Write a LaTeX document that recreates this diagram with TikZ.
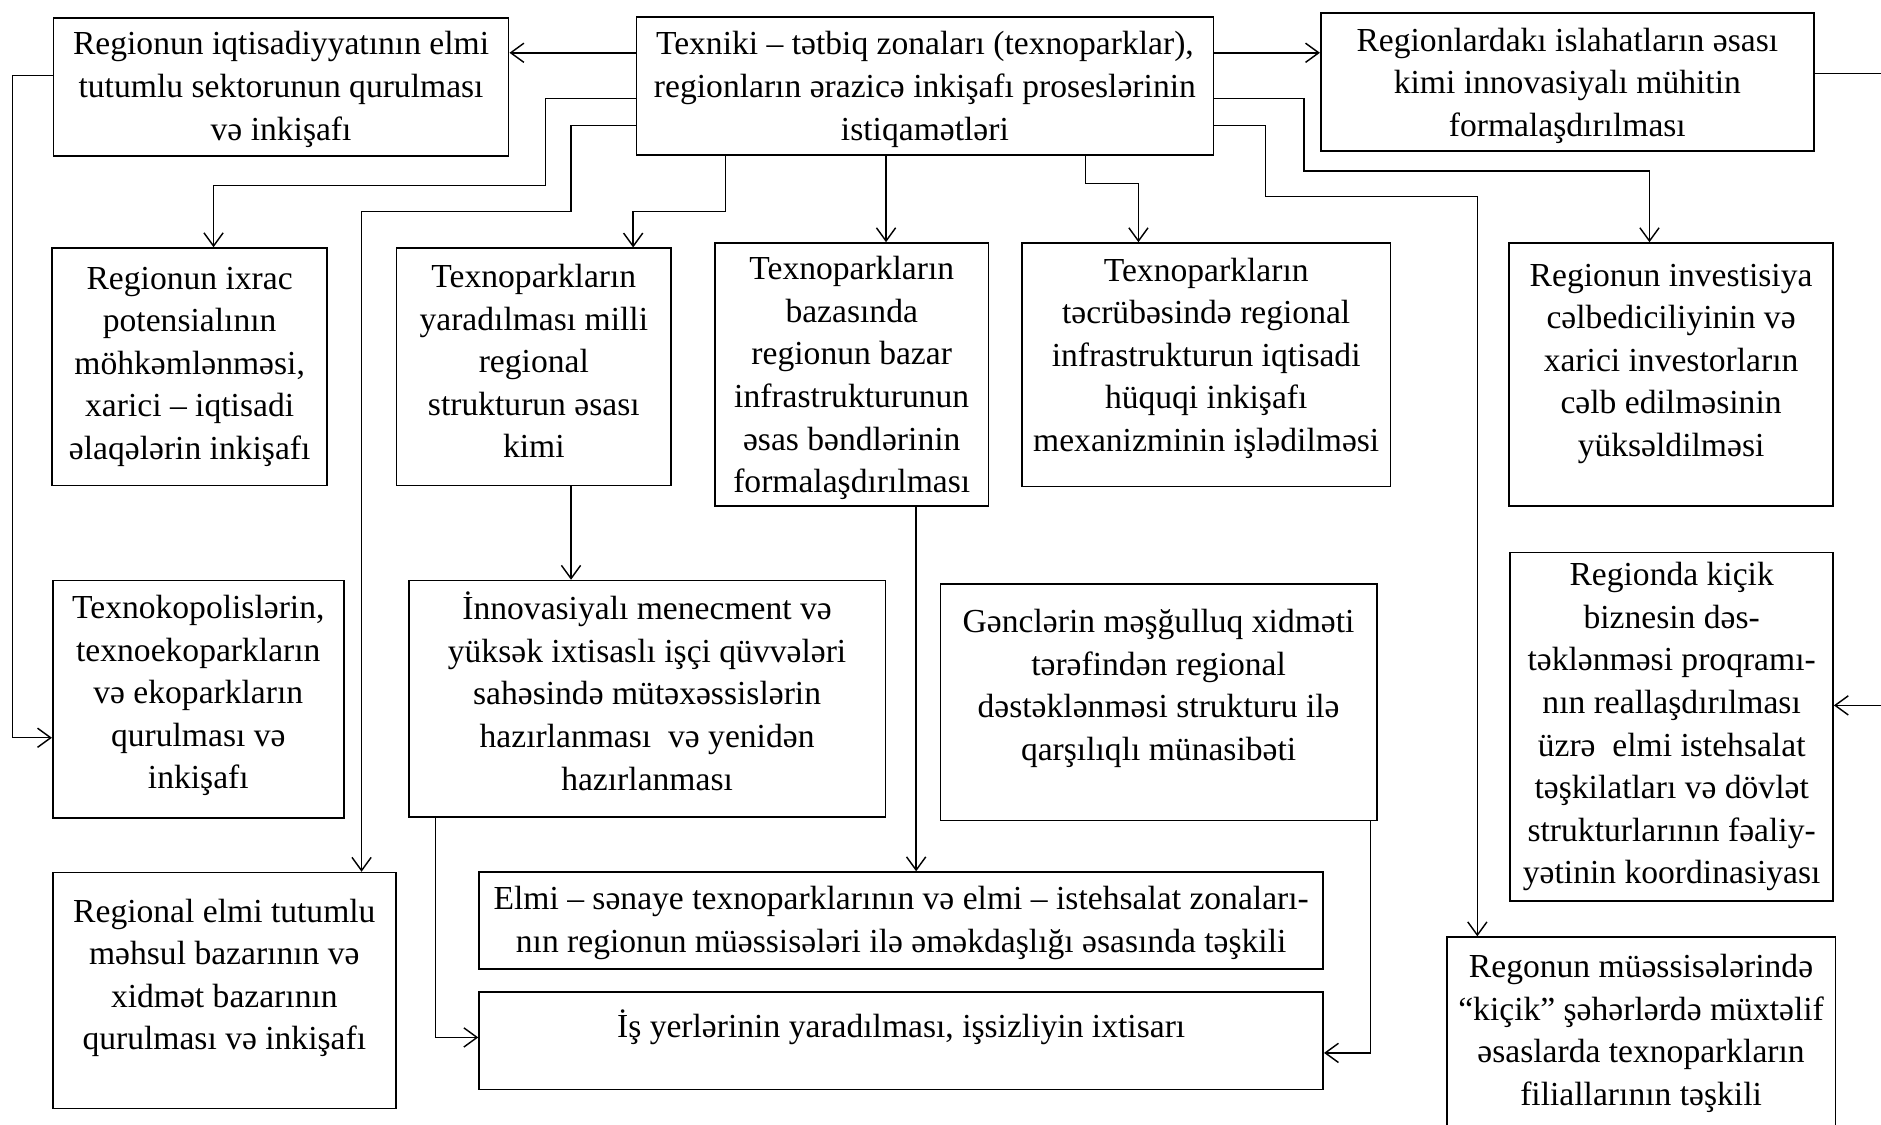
\documentclass[tikz,border=0pt]{standalone}
\usepackage{fontspec}
\setmainfont{Liberation Serif}
\usetikzlibrary{arrows.meta, calc, positioning}

\begin{document}
\begin{tikzpicture}[x=0.5pt, y=-0.5pt,
    box/.style={draw, line width=0.7pt, align=center, inner sep=0pt, font=\fontsize{14pt}{17.75pt}\selectfont},
    lift/.style={text depth=#1},
    arr/.style={-{Straight Barb[length=5.5pt, width=8pt]}, line width=0.6pt},
    ln/.style={line width=0.6pt}]
    \useasboundingbox (0,0) rectangle (1568,937);

    % Top row
    \node[box, lift=0pt, minimum width=240.5pt, minimum height=57.5pt] (zones) at (771,71.5)
        {Texniki – tətbiq zonaları (texnoparklar),\\ regionların ərazicə inkişafı proseslərinin\\ istiqamətləri};
    \node[box, lift=1pt, minimum width=189.7pt, minimum height=57.4pt] (sector) at (234.3,72.6)
        {Regionun iqtisadiyyatının elmi\\ tutumlu sektorunun qurulması\\ və inkişafı};
    \node[box, lift=0pt, minimum width=205.5pt, minimum height=57.5pt] (reform) at (1306.5,68.5)
        {Regionlardakı islahatların əsası\\ kimi innovasiyalı mühitin\\ formalaşdırılması};

    % Second row
    \node[box, minimum width=114.6pt, minimum height=99pt] (export) at (158.1,305.8)
        {Regionun ixrac\\ potensialının\\ möhkəmlənməsi,\\ xarici – iqtisadi\\ əlaqələrin inkişafı};
    \node[box, lift=5pt, minimum width=114.5pt, minimum height=98.9pt] (national) at (445,305.9)
        {Texnoparkların\\ yaradılması milli\\ regional\\ strukturun əsası\\ kimi};
    \node[box, lift=0pt, minimum width=114pt, minimum height=109.6pt] (market) at (710,312.2)
        {Texnoparkların\\ bazasında\\ regionun bazar\\ infrastrukturunun\\ əsas bəndlərinin\\ formalaşdırılması};
    \node[box, lift=8.5pt, minimum width=153.5pt, minimum height=101.5pt] (legal) at (1005.5,304.1)
        {Texnoparkların\\ təcrübəsində regional\\ infrastrukturun iqtisadi\\ hüquqi inkişafı\\ mexanizminin işlədilməsi};
    \node[box, lift=12pt, minimum width=135pt, minimum height=109.6pt] (invest) at (1393,312.2)
        {Regionun investisiya\\ cəlbediciliyinin və\\ xarici investorların\\ cəlb edilməsinin\\ yüksəldilməsi};

    % Third row
    \node[box, lift=6pt, minimum width=121.3pt, minimum height=98.8pt] (techno) at (165.3,582.8)
        {Texnokopolislərin,\\ texnoekoparkların\\ və ekoparkların\\ qurulması və\\ inkişafı};
    \node[box, lift=6.5pt, minimum width=198.7pt, minimum height=98.5pt] (staff) at (539.4,582.5)
        {İnnovasiyalı menecment və\\ yüksək ixtisaslı işçi qüvvələri\\ sahəsində mütəxəssislərin\\ hazırlanması\ \ və yenidən\\ hazırlanması};
    \node[box, lift=14.5pt, minimum width=181.8pt, minimum height=98.5pt] (youth) at (965.8,585.5)
        {Gənclərin məşğulluq xidməti\\ tərəfindən regional\\ dəstəklənməsi strukturu ilə\\ qarşılıqlı münasibəti};
    \node[box, minimum width=134.5pt, minimum height=145.2pt] (smallbiz) at (1393.5,605.8)
        {Regionda kiçik\\ biznesin dəs-\\ təklənməsi proqramı-\\ nın reallaşdırılması\\ üzrə\ \ elmi istehsalat\\ təşkilatları və dövlət\\ strukturlarının fəaliy-\\ yətinin koordinasiyası};

    % Bottom row
    \node[box, lift=13.5pt, minimum width=143pt, minimum height=98.3pt] (product) at (187,825.7)
        {Regional elmi tutumlu\\ məhsul bazarının və\\ xidmət bazarının\\ qurulması və inkişafı};
    \node[box, lift=1pt, minimum width=351.8pt, minimum height=40.5pt] (coop) at (751.2,767.5)
        {Elmi – sənaye texnoparklarının və elmi – istehsalat zonaları-\\ nın regionun müəssisələri ilə əməkdaşlığı əsasında təşkili};
    \node[box, lift=14.5pt, minimum width=351.8pt, minimum height=40.7pt] (jobs) at (751.2,867.4)
        {İş yerlərinin yaradılması, işsizliyin ixtisarı};
    \node[box, minimum width=162pt, minimum height=80.4pt] (branch) at (1368,861.6)
        {Regonun müəssisələrində\\ “kiçik” şəhərlərdə müxtəlif\\ əsaslarda texnoparkların\\ filiallarının təşkili};

    % Free ends at the right margin
    \coordinate (rb) at (1568,61.5);
    \coordinate (rk) at (1568,588);

    % Arrows from the centre box
    \draw[arr] (zones.west |- 0,44) -- (sector.east |- 0,44);
    \draw[arr] (zones.east |- 0,44) -- (reform.west |- 0,44);
    \draw[arr] (zones.west |- 0,82) -| (454.5,154.7) -| (export.north -| 178,0);
    \draw[arr] (zones.west |- 0,104.7) -| (476,176.4) -| (product.north -| 301.4,0);
    \draw[arr] (zones.south -| 604.7,0) |- (527.8,176.4) -- (national.north -| 527.8,0);
    \draw[arr] (zones.south -| 738.6,0) -- (market.north -| 738.6,0);
    \draw[arr] (zones.south -| 905,0) |- (949,152.8) -- (legal.north -| 949,0);
    \draw[arr] (zones.east |- 0,82) -| (1087,142.5) -| (invest.north -| 1375,0);
    \draw[arr] (zones.east |- 0,104.7) -| (1055,164) -| (branch.north -| 1231.5,0);

    % Other links
    \draw[arr] (sector.west |- 0,63) -| (10.4,615) -- (techno.west |- 0,615);
    \draw[ln] (reform.east |- rb) -- (rb);
    \draw[arr] (rk) -- (smallbiz.east |- rk);
    \draw[arr] (national.south -| 476,0) -- (staff.north -| 476,0);
    \draw[arr] (market.south -| 763.7,0) -- (coop.north -| 763.7,0);
    \draw[arr] (staff.south -| 363,0) |- (jobs.west |- 0,864.8);
    \draw[arr] (youth.south -| 1142.3,0) |- (jobs.east |- 0,877.7);
\end{tikzpicture}
\end{document}
